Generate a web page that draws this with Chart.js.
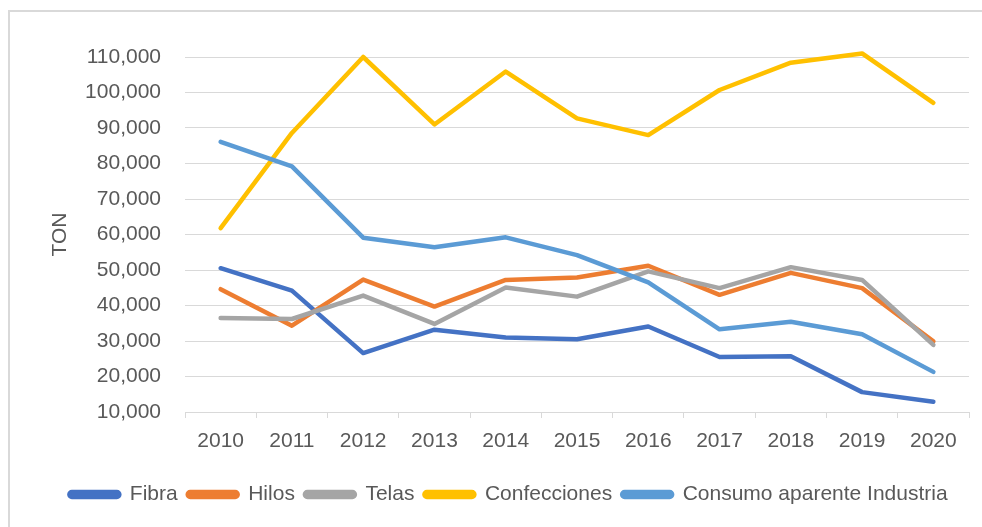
<!DOCTYPE html>
<html>
<head>
<meta charset="utf-8">
<script src="https://cdn.jsdelivr.net/npm/chart.js@4.4.1/dist/chart.umd.min.js"></script>
<style>
  html, body { margin: 0; padding: 0; background: #fff; }
  #wrap { position: relative; width: 982px; height: 527px; overflow: hidden; }
  #frame {
    position: absolute; left: 8px; top: 10px; width: 1000px; height: 600px;
    border-left: 2px solid #d9d9d9; border-top: 2px solid #d9d9d9;
  }
  #chart { position: absolute; left: 0; top: 0; }
</style>
</head>
<body>
<div id="wrap">
  <div id="frame"></div>
  <canvas id="chart" width="982" height="527"></canvas>
</div>
<script>
// years on the x axis
const years = ['2010', '2011', '2012', '2013', '2014', '2015', '2016', '2017', '2018', '2019', '2020'];

// tonnes per year
const fibra = [50500, 44200, 26600, 33200, 31000, 30500, 34100, 25500, 25700, 15600, 12900];
const hilos = [44600, 34300, 47300, 39700, 47200, 47900, 51200, 43000, 49200, 44900, 29900];
const telas = [36500, 36200, 42800, 34800, 45100, 42500, 49600, 44900, 50800, 47200, 28900];
const confecciones = [61800, 88600, 110000, 91000, 105900, 92700, 88000, 100700, 108400, 111000, 97100];
const consumo = [86100, 79200, 59100, 56400, 59200, 54200, 46500, 33300, 35400, 31900, 21300];

const seriesNames = ['Fibra', 'Hilos', 'Telas', 'Confecciones', 'Consumo aparente Industria'];
const seriesColors = ['#4472C4', '#ED7D31', '#A5A5A5', '#FFC000', '#5B9BD5'];
const seriesValues = [fibra, hilos, telas, confecciones, consumo];

const textColor = '#595959';
const gridColor = '#d9d9d9';
const font = {family: '"Liberation Sans", Arial, sans-serif', size: 21};

const datasets = seriesValues.map((values, i) => ({
    label: seriesNames[i],
    data: values,
    borderColor: seriesColors[i],
    backgroundColor: seriesColors[i],
    borderWidth: 4.5,
    borderCapStyle: 'round',
    borderJoinStyle: 'round',
    pointRadius: 0,
    tension: 0,
    fill: false,
    clip: false,
    // later series sit on top, like the original
    order: seriesValues.length - i,
}));

new Chart(document.getElementById('chart'), {
    type: 'line',
    data: {labels: years, datasets: datasets},
    options: {
        responsive: false,
        animation: false,
        layout: {
            padding: {top: 57, right: 13, bottom: 12, left: 48},
        },
        plugins: {
            tooltip: {enabled: false},
            legend: {
                position: 'bottom',
                labels: {
                    color: textColor,
                    font: font,
                    boxWidth: 50,
                    boxHeight: 5,
                    padding: 10,
                    useBorderRadius: true,
                    borderRadius: 2.5,
                    sort: (a, b) => a.datasetIndex - b.datasetIndex,
                },
            },
        },
        scales: {
            x: {
                offset: true,
                grid: {
                    offset: true,
                    drawOnChartArea: false,
                    drawTicks: true,
                    tickLength: 6,
                    color: gridColor,
                },
                border: {display: true, color: gridColor, width: 1},
                ticks: {color: textColor, font: font, padding: 11, maxRotation: 0},
                afterFit: (scale) => { scale.height = 62; },
            },
            y: {
                min: 10000,
                max: 110000,
                grid: {color: gridColor, drawTicks: false},
                border: {display: false},
                ticks: {
                    stepSize: 10000,
                    color: textColor,
                    font: font,
                    padding: 24,
                    callback: (v) => v.toLocaleString('en-US'),
                },
                title: {
                    display: true,
                    text: 'TON',
                    color: textColor,
                    font: font,
                    padding: {top: 0, bottom: 0},
                },
                afterFit: (scale) => { scale.width = 137; },
            },
        },
    },
});
</script>
</body>
</html>
